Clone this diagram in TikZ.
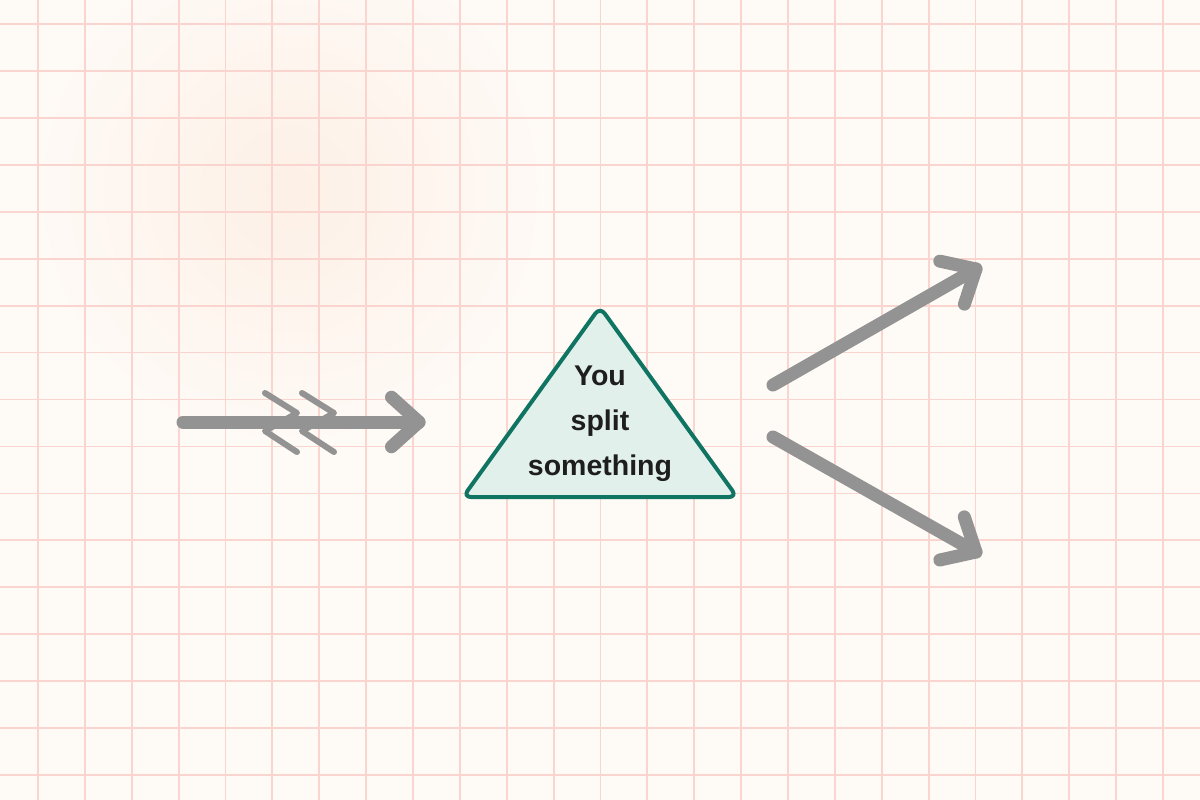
\documentclass[tikz,border=0pt]{standalone}
\usepackage{fontspec}
\setmainfont{Liberation Sans}
\usetikzlibrary{calc}
\definecolor{paper}{HTML}{FEFAF6}
\definecolor{peach}{HTML}{FDF0E6}
\definecolor{gridc}{HTML}{FAD4CF}
\definecolor{arrowc}{HTML}{939393}
\definecolor{triline}{HTML}{107462}
\definecolor{trifill}{HTML}{E2F0EB}
\definecolor{txt}{HTML}{1E1E1E}
\tikzset{
  gridline/.style={draw=gridc, line width=1.8pt},
  shaft/.style={draw=arrowc, line width=13pt, line cap=round, line join=round},
  thinmark/.style={draw=arrowc, line width=6pt, line cap=round, line join=round},
  tri/.style={draw=triline, fill=trifill, line width=4pt, rounded corners=8pt, line join=round},
  lbl/.style={font=\bfseries\fontsize{28.5}{45}\selectfont, text=txt, align=center}
}
\begin{document}
\begin{tikzpicture}[x=1pt,y=-1pt]
\useasboundingbox (0,0) rectangle (1200,800);
\fill[paper] (0,0) rectangle (1200,800);
\shade[inner color=peach, outer color=paper] (290,190) circle (260);
% grid
\foreach \i in {0,...,24} \draw[gridline] ({38+\i*46.875},0) -- ({38+\i*46.875},800);
\foreach \j in {0,...,16} \draw[gridline] (0,{24+\j*46.94}) -- (1200,{24+\j*46.94});
% left arrow
\coordinate (a1s) at (183,422);
\coordinate (a1t) at (419,422);
\draw[thinmark] (265,393) -- (297,413) -- (265,431) -- (297,452);
\draw[thinmark] (302,393) -- (334,413) -- (302,431) -- (334,452);
\draw[shaft] (a1s) -- (a1t);
\draw[shaft] ($(a1t)!37pt!42:(a1s)$) -- (a1t) -- ($(a1t)!37pt!-42:(a1s)$);
% triangle
\coordinate (ta) at (600,307);
\coordinate (tr) at (737,497);
\coordinate (tl) at (463,497);
\draw[tri] (ta) -- (tr) -- (tl) -- cycle;
\node[lbl] (label) at (600,424) {You\\split\\something};
% right arrows
\coordinate (a2s) at (773,385);
\coordinate (a2t) at (976,269);
\coordinate (a3s) at (773,437);
\coordinate (a3t) at (976,552);
\draw[shaft] (a2s) -- (a2t);
\draw[shaft] ($(a2t)!37pt!42:(a2s)$) -- (a2t) -- ($(a2t)!37pt!-42:(a2s)$);
\draw[shaft] (a3s) -- (a3t);
\draw[shaft] ($(a3t)!37pt!42:(a3s)$) -- (a3t) -- ($(a3t)!37pt!-42:(a3s)$);
\end{tikzpicture}
\end{document}
